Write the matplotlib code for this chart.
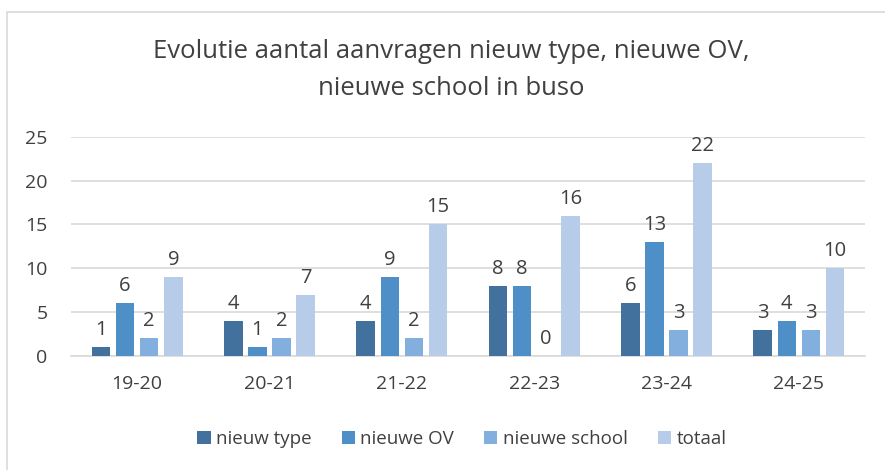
import matplotlib.pyplot as plt
import numpy as np
from matplotlib.patches import Rectangle

# data
years = ['19-20', '20-21', '21-22', '22-23', '23-24', '24-25']
nieuw_type = [1, 4, 4, 8, 6, 3]
nieuwe_ov = [6, 1, 9, 8, 13, 4]
nieuwe_school = [2, 2, 2, 0, 3, 3]
totaal = [9, 7, 15, 16, 22, 10]

series = [('nieuw type', nieuw_type, '#41719c'),
          ('nieuwe OV', nieuwe_ov, '#4e8fc8'),
          ('nieuwe school', nieuwe_school, '#83afdf'),
          ('totaal', totaal, '#b7cce8')]

plt.rcParams['font.family'] = ['Open Sans', 'DejaVu Sans']
txtcol = '#404040'

W, H = 885, 470
fig = plt.figure(figsize=(W/100, H/100), dpi=100)
ax = fig.add_axes([71/W, 1-356/H, (865-71)/W, (356-136.7)/H])

# chart frame (only top/left visible in the reference)
fig.patches.append(Rectangle((7/W, -0.1), 1.2, 1-12/H+0.1, transform=fig.transFigure,
                             fill=False, edgecolor='#d9d9d9', linewidth=1.2))

x = np.arange(len(years))
step = 0.182
bw = 0.14
for i, (name, vals, col) in enumerate(series):
    pos = x + (i-1.5)*step
    bars = ax.bar(pos, vals, width=bw, color=col, label=name, zorder=3)
    for p, v in zip(pos, vals):
        ax.text(p, v + 0.8, str(v), ha='center', va='bottom', fontsize=14.5, color=txtcol)

ax.set_xlim(-0.5, len(years)-0.5)
ax.set_ylim(0, 25)
ax.set_yticks(range(0, 26, 5))
ax.set_xticks(x)
ax.set_xticklabels(years)
ax.yaxis.grid(True, color='#d9d9d9', linewidth=1.2, zorder=0)
for s in ['top', 'right', 'left']:
    ax.spines[s].set_visible(False)
ax.spines['bottom'].set_color('#d9d9d9')
ax.spines['bottom'].set_linewidth(1.2)
ax.tick_params(axis='both', length=0, labelsize=14, labelcolor=txtcol)
ax.tick_params(axis='x', pad=14)
ax.tick_params(axis='y', pad=17)

fig.text(451/W, 1-70/H, 'Evolutie aantal aanvragen nieuw type, nieuwe OV,\nnieuwe school in buso',
         ha='center', va='center', fontsize=18.5, color=txtcol, linespacing=1.6)

fig.legend(loc='center', bbox_to_anchor=(462/W, 1-439/H), ncol=4, frameon=False,
           fontsize=13.5, labelcolor=txtcol, handlelength=0.7, handleheight=0.7,
           handletextpad=0.3, columnspacing=1.6)

fig.savefig('out.png', dpi=100)
